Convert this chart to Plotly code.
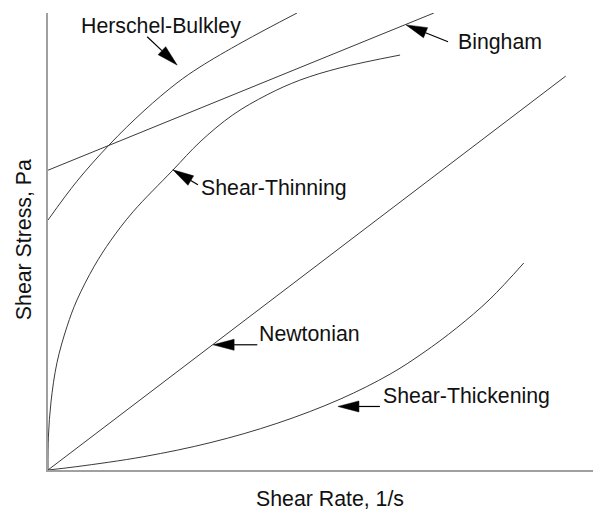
import numpy as np
import plotly.graph_objects as go

# Flow curves: shear stress against shear rate (arbitrary units, 0-100 on both axes)
newtonian_rate = [0.0, 95.0]
newtonian_stress = [0.0, 86.2]

bingham_rate = [0.0, 70.8]
bingham_stress = [65.6, 100.0]

hb_rate = [0.0, 5.32, 11.19, 17.61, 23.67, 27.89, 35.78, 45.69]
hb_stress = [54.7, 63.2, 71.1, 78.6, 84.7, 88.2, 93.7, 100.0]

thinning_rate = [0.0, 0.07, 0.55, 1.65, 3.49, 5.32, 8.44, 11.56, 15.6, 22.9,
                 27.9, 33.9, 40.2, 46.2, 53.6, 64.6]
thinning_stress = [0.0, 7.2, 14.9, 23.5, 31.4, 37.2, 44.5, 50.3, 56.5, 65.6,
                   71.8, 77.7, 82.1, 85.3, 88.0, 90.8]

thickening_rate = [0.0, 5.3, 17.6, 29.9, 42.0, 53.6, 62.8, 68.8, 75.0, 81.1, 87.3]
thickening_stress = [0.0, 0.74, 2.93, 6.02, 10.2, 15.5, 21.0, 25.6, 31.1, 37.4, 45.3]

# Curve labels and their pointer arrows
labels = ["Herschel-Bulkley", "Bingham", "Shear-Thinning", "Newtonian", "Shear-Thickening"]
label_x = [5.7, 74.9, 27.7, 38.4, 61.1]
label_y = [97.2, 93.7, 61.7, 29.8, 16.2]
tip_x = [23.7, 65.7, 22.9, 30.3, 53.2]
tip_y = [88.6, 97.4, 65.7, 27.4, 13.9]
tail_x = [18.2, 73.4, 27.5, 38.4, 60.9]
tail_y = [94.8, 93.7, 62.4, 27.4, 13.9]

# Layout geometry
W, H = 593, 512
M = dict(l=48, r=0, t=13, b=42)
X_RANGE = [0, 100]
Y_RANGE = [0, 100]
px_x = (W - M["l"] - M["r"]) / (X_RANGE[1] - X_RANGE[0])
px_y = (H - M["t"] - M["b"]) / (Y_RANGE[1] - Y_RANGE[0])

FONT = "Liberation Sans, Arial, sans-serif"
CURVE = "#3a3a3a"
AXIS = "#a0a0a0"
HEAD_LEN, HEAD_W = 21, 11

fig = go.Figure()

for xs, ys in [(newtonian_rate, newtonian_stress), (bingham_rate, bingham_stress),
               (hb_rate, hb_stress), (thinning_rate, thinning_stress),
               (thickening_rate, thickening_stress)]:
    fig.add_trace(go.Scatter(x=xs, y=ys, mode="lines",
                             line=dict(color=CURVE, width=1, shape="spline", smoothing=1),
                             hoverinfo="skip", showlegend=False))

# Arrow shafts and filled heads, built in screen space so the heads keep their shape
shaft_x, shaft_y, head_x, head_y = [], [], [], []
for tx, ty, sx, sy in zip(tip_x, tip_y, tail_x, tail_y):
    dx, dy = (sx - tx) * px_x, (sy - ty) * px_y
    n = np.hypot(dx, dy)
    ux, uy = dx / n, dy / n
    bx, by = tx * px_x + ux * HEAD_LEN, ty * px_y + uy * HEAD_LEN
    c1 = ((bx - uy * HEAD_W / 2) / px_x, (by + ux * HEAD_W / 2) / px_y)
    c2 = ((bx + uy * HEAD_W / 2) / px_x, (by - ux * HEAD_W / 2) / px_y)
    shaft_x += [sx, bx / px_x, None]
    shaft_y += [sy, by / px_y, None]
    head_x += [tx, c1[0], c2[0], tx, None]
    head_y += [ty, c1[1], c2[1], ty, None]

fig.add_trace(go.Scatter(x=shaft_x, y=shaft_y, mode="lines",
                         line=dict(color="black", width=1.2),
                         hoverinfo="skip", showlegend=False))
fig.add_trace(go.Scatter(x=head_x, y=head_y, mode="lines", fill="toself",
                         fillcolor="black", line=dict(color="black", width=0.5),
                         hoverinfo="skip", showlegend=False))

for text, x, y in zip(labels, label_x, label_y):
    fig.add_annotation(x=x, y=y, text=text, showarrow=False,
                       xanchor="left", yanchor="middle",
                       font=dict(family=FONT, size=21.3, color="#111111"))

# Axis titles
fig.add_annotation(xref="paper", yref="paper", x=0.5174, y=-0.064,
                   text="Shear Rate, 1/s", showarrow=False,
                   xanchor="center", yanchor="middle",
                   font=dict(family=FONT, size=21.3, color="#111111"))
fig.add_annotation(xref="paper", yref="paper", x=-0.044, y=0.503,
                   text="Shear Stress, Pa", showarrow=False, textangle=-90,
                   xanchor="center", yanchor="middle",
                   font=dict(family=FONT, size=21.3, color="#111111"))

axis_style = dict(showgrid=False, zeroline=False, showticklabels=False, ticks="",
                  showline=True, linecolor=AXIS, linewidth=1.5, fixedrange=True)
fig.update_xaxes(range=X_RANGE, **axis_style)
fig.update_yaxes(range=Y_RANGE, **axis_style)

fig.update_layout(width=W, height=H, margin=M, plot_bgcolor="white",
                  paper_bgcolor="white", showlegend=False)

fig.write_html("out.html")
